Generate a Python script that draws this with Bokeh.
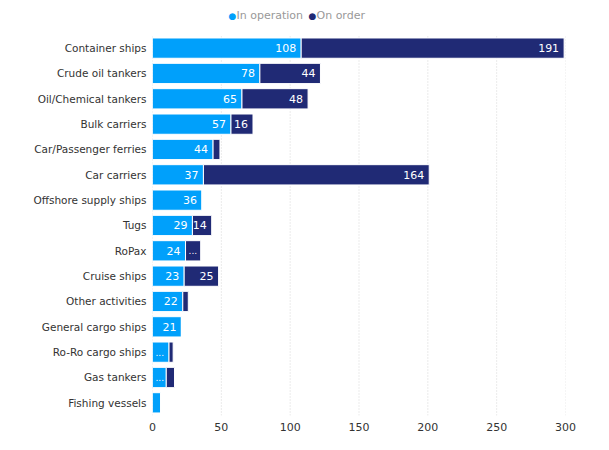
from bokeh.plotting import figure
from bokeh.models import ColumnDataSource, Range1d, Label, FixedTicker
from bokeh.core.properties import value
from bokeh.embed import file_html
from bokeh.resources import INLINE

categories = ["Container ships", "Crude oil tankers", "Oil/Chemical tankers", "Bulk carriers",
              "Car/Passenger ferries", "Car carriers", "Offshore supply ships", "Tugs", "RoPax",
              "Cruise ships", "Other activities", "General cargo ships", "Ro-Ro cargo ships",
              "Gas tankers", "Fishing vessels"]
in_operation = [108, 78, 65, 57, 44, 37, 36, 29, 24, 23, 22, 21, 12, 10, 6]
on_order = [191, 44, 48, 16, 5, 164, 0, 14, 11, 25, 4, 0, 3, 6, 0]
series_names = ["In operation", "On order"]
x_ticks = [0, 50, 100, 150, 200, 250, 300]

C1 = "#00a0fb"
C2 = "#202a75"
FONT = "DejaVu Sans"

def lab(v):
    return str(v) if v >= 13 else ""

def ell(v):
    return "..." if 9 <= v < 13 else ""

n = len(categories)
ypos = [n - 1 - i for i in range(n)]  # first category on top
ends_order = [a + b for a, b in zip(in_operation, on_order)]
src = ColumnDataSource(dict(y=ypos, cat=categories, op=in_operation, order=on_order, end2=ends_order,
                            zero=[0] * n,
                            l1=[lab(v) for v in in_operation], l2=[lab(v) for v in on_order],
                            e1=[ell(v) for v in in_operation], e2=[ell(v) for v in on_order]))

W, H = 600, 442
TOP_EXTRA = 1.38  # room above the bars for the legend (in row units)
p = figure(width=W, height=H, output_backend="svg", toolbar_location=None,
           y_range=Range1d(-0.5, n - 0.5 + TOP_EXTRA),
           x_range=Range1d(0, 300),
           min_border_left=152, min_border_right=35, min_border_top=0, min_border_bottom=27)
p.outline_line_color = None
p.background_fill_color = "white"

# dotted vertical grid limited to the bar area
p.segment(x0=x_ticks, y0=[-0.5] * len(x_ticks), x1=x_ticks, y1=[n - 0.5] * len(x_ticks),
          line_color="#d6d6d6", line_dash="1 2", line_width=1)

p.hbar(y="y", left="zero", right="op", height=0.8, source=src, fill_color=C1, line_color="white", line_width=1)
p.hbar(y="y", left="op", right="end2", height=0.8, source=src, fill_color=C2, line_color="white", line_width=1)

common = dict(source=src, text_baseline="middle", text_color="white", text_font=value(FONT))
p.text(x="op", y="y", text="l1", x_offset=-5, text_align="right", text_font_size="11px", **common)
p.text(x="end2", y="y", text="l2", x_offset=-5, text_align="right", text_font_size="11px", **common)
p.text(x="zero", y="y", text="e1", x_offset=3, text_align="left", text_font_size="9px", **common)
p.text(x="op", y="y", text="e2", x_offset=3, text_align="left", text_font_size="9px", **common)

p.xaxis.ticker = x_ticks
p.xaxis.axis_line_color = None
p.xaxis.major_tick_line_color = None
p.xaxis.major_tick_out = 0
p.xaxis.minor_tick_line_color = None
p.xaxis.major_label_text_font = FONT
p.xaxis.major_label_text_font_size = "11px"
p.xaxis.major_label_text_color = "#333333"
p.xaxis.major_label_standoff = 7

p.yaxis.ticker = FixedTicker(ticks=ypos)
p.yaxis.major_label_overrides = {yy: c for yy, c in zip(ypos, categories)}
p.yaxis.axis_line_color = None
p.yaxis.major_tick_line_color = None
p.yaxis.major_tick_out = 0
p.yaxis.minor_tick_line_color = None
p.yaxis.major_label_text_font = FONT
p.yaxis.major_label_text_font_size = "10.5px"
p.yaxis.major_label_text_color = "#333333"
p.yaxis.major_label_standoff = 6

p.xgrid.grid_line_color = None
p.ygrid.grid_line_color = None

# legend drawn with screen-unit labels inside the frame (above the bars)
for dx, name, col in [(80, series_names[0], C1), (160, series_names[1], C2)]:
    p.add_layout(Label(x=dx, y=400, x_units="screen", y_units="screen", text="●",
                       text_color=col, text_font=FONT, text_font_size="9px",
                       text_align="center", text_baseline="middle"))
    p.add_layout(Label(x=dx + 4, y=400, x_units="screen", y_units="screen", text=name,
                       text_color="#999999", text_font=FONT, text_font_size="11px",
                       text_align="left", text_baseline="middle"))

open("out.html", "w").write(file_html(p, INLINE))
